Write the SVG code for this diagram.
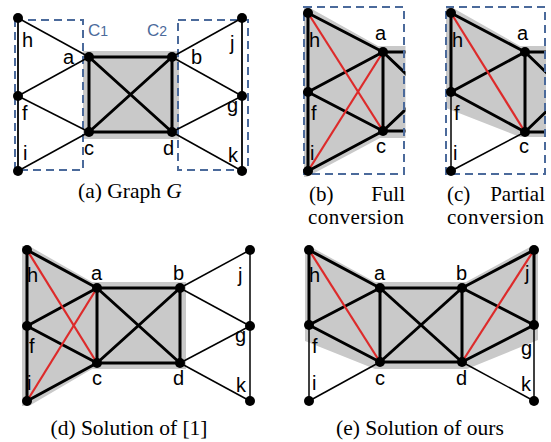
<svg xmlns="http://www.w3.org/2000/svg" width="551" height="442" viewBox="0 0 551 442">
<style>
.bg{fill:#ffffff}
.gray{fill:#c9c9c9;stroke:none}
.tk{stroke:#000;stroke-width:3;fill:none;stroke-linecap:round}
.tn{stroke:#000;stroke-width:1.5;fill:none}
.md{stroke:#1a1a1a;stroke-width:2;fill:none}
.rd{stroke:#dd2a2a;stroke-width:2.2;fill:none}
.box{fill:none;stroke:#4b6a9b;stroke-width:2;stroke-dasharray:8,5}
.nd{fill:#000}
.lb{font-family:"Liberation Sans",Arial,sans-serif;font-size:20px;fill:#000}
.cl{font-family:"Liberation Sans",Arial,sans-serif;font-size:17px;fill:#4b6a9b}
.cap{font-family:"Liberation Serif","Times New Roman",serif;font-size:21.5px;fill:#000}
.cap2{font-family:"Liberation Serif","Times New Roman",serif;font-size:21px;fill:#000}
</style>
<defs>
<clipPath id="clipB"><rect x="290" y="0" width="115.5" height="180"/></clipPath>
<clipPath id="clipC"><rect x="430" y="0" width="116" height="180"/></clipPath>
</defs>
<rect class="bg" x="0" y="0" width="551" height="442"/>

<!-- Panel (a) -->
<g id="panel-a">
<rect class="gray" x="83" y="51" width="96" height="88"/>
<rect class="box" x="15" y="20" width="68" height="150"/>
<rect class="box" x="178" y="20" width="70" height="150"/>
<text class="cl" x="88" y="36">C<tspan font-size="14">1</tspan></text>
<text class="cl" x="147" y="36">C<tspan font-size="14">2</tspan></text>
<g id="a-connectors">
<line class="md" x1="18" y1="18" x2="18" y2="171"/>
<line class="md" x1="242" y1="18" x2="242" y2="171"/>
<line class="tn" x1="18" y1="18" x2="89" y2="57"/>
<line class="tn" x1="18" y1="96" x2="89" y2="57"/>
<line class="tn" x1="18" y1="96" x2="89" y2="132"/>
<line class="tn" x1="18" y1="171" x2="89" y2="132"/>
<line class="tn" x1="242" y1="18" x2="172" y2="57"/>
<line class="tn" x1="242" y1="96" x2="172" y2="57"/>
<line class="tn" x1="242" y1="96" x2="172" y2="132"/>
<line class="tn" x1="242" y1="171" x2="172" y2="132"/>
<line class="tk" x1="89" y1="57" x2="172" y2="57"/>
<line class="tk" x1="89" y1="132" x2="172" y2="132"/>
<line class="tk" x1="89" y1="57" x2="89" y2="132"/>
<line class="tk" x1="172" y1="57" x2="172" y2="132"/>
<line class="tk" x1="89" y1="57" x2="172" y2="132"/>
<line class="tk" x1="172" y1="57" x2="89" y2="132"/>
</g>
<g id="a-node-h"><circle class="nd" cx="18" cy="18" r="5"/><text class="lb" x="22" y="47">h</text></g>
<g id="a-node-f"><circle class="nd" cx="18" cy="96" r="5"/><text class="lb" x="22" y="120">f</text></g>
<g id="a-node-i"><circle class="nd" cx="18" cy="171" r="5"/><text class="lb" x="23" y="160">i</text></g>
<g id="a-node-a"><circle class="nd" cx="89" cy="57" r="5"/><text class="lb" x="63" y="64">a</text></g>
<g id="a-node-c"><circle class="nd" cx="89" cy="132" r="5"/><text class="lb" x="84" y="155">c</text></g>
<g id="a-node-b"><circle class="nd" cx="172" cy="57" r="5"/><text class="lb" x="191" y="64">b</text></g>
<g id="a-node-d"><circle class="nd" cx="172" cy="132" r="5"/><text class="lb" x="163" y="155">d</text></g>
<g id="a-node-j"><circle class="nd" cx="242" cy="18" r="5"/><text class="lb" x="230" y="50">j</text></g>
<g id="a-node-g"><circle class="nd" cx="242" cy="96" r="5"/><text class="lb" x="227" y="112">g</text></g>
<g id="a-node-k"><circle class="nd" cx="242" cy="171" r="5"/><text class="lb" x="228" y="162">k</text></g>
<text class="cap" x="78" y="198">(a) Graph <tspan font-style="italic">G</tspan></text>
</g>

<!-- Panel (b) -->
<g id="panel-b">
<g clip-path="url(#clipB)">
<polygon class="gray" points="304,8 310,8 378,46 406,46 406,138 380,138 307,177 304,177"/>
<g id="b-connectors">
<line class="tk" x1="308" y1="13" x2="308" y2="171"/>
<line class="tk" x1="308" y1="13" x2="383" y2="52"/>
<line class="tk" x1="308" y1="92" x2="383" y2="52"/>
<line class="tk" x1="308" y1="92" x2="383" y2="131"/>
<line class="tk" x1="308" y1="171" x2="383" y2="131"/>
<line class="tk" x1="383" y1="52" x2="383" y2="131"/>
<line class="tk" x1="383" y1="52" x2="466" y2="52"/>
<line class="tk" x1="383" y1="131" x2="466" y2="131"/>
<line class="tk" x1="383" y1="52" x2="466" y2="131"/>
<line class="tk" x1="383" y1="131" x2="466" y2="52"/>
<line class="rd" x1="308" y1="13" x2="383" y2="131"/>
<line class="rd" x1="308" y1="171" x2="383" y2="52"/>
</g>
</g>
<rect class="box" x="304" y="7" width="100" height="167" stroke-width="1.5"/>
<g id="b-node-h"><circle class="nd" cx="308" cy="13" r="5"/><text class="lb" x="309" y="47">h</text></g>
<g id="b-node-f"><circle class="nd" cx="308" cy="92" r="5"/><text class="lb" x="311" y="120">f</text></g>
<g id="b-node-i"><circle class="nd" cx="308" cy="171" r="5"/><text class="lb" x="310" y="160">i</text></g>
<g id="b-node-a"><circle class="nd" cx="383" cy="52" r="5"/><text class="lb" x="375" y="40">a</text></g>
<g id="b-node-c"><circle class="nd" cx="383" cy="131" r="5"/><text class="lb" x="376" y="153">c</text></g>
<text class="cap2" x="309" y="201">(b)</text>
<text class="cap2" x="405" y="201" text-anchor="end">Full</text>
<text class="cap2" x="308" y="224" textLength="96" lengthAdjust="spacing">conversion</text>
</g>

<!-- Panel (c) -->
<g id="panel-c">
<g clip-path="url(#clipC)">
<polygon class="gray" points="446,8 453,8 520,46 547,46 547,137 520,137 446,108"/>
<g id="c-connectors">
<line class="tk" x1="451" y1="13" x2="451" y2="92"/>
<line class="tn" x1="451" y1="92" x2="451" y2="171"/>
<line class="tk" x1="451" y1="13" x2="525" y2="52"/>
<line class="tk" x1="451" y1="92" x2="525" y2="52"/>
<line class="tk" x1="451" y1="92" x2="525" y2="132"/>
<line class="tn" x1="451" y1="171" x2="525" y2="132"/>
<line class="tk" x1="525" y1="52" x2="525" y2="132"/>
<line class="tk" x1="525" y1="52" x2="608" y2="52"/>
<line class="tk" x1="525" y1="132" x2="608" y2="132"/>
<line class="tk" x1="525" y1="52" x2="608" y2="132"/>
<line class="tk" x1="525" y1="132" x2="608" y2="52"/>
<line class="rd" x1="451" y1="13" x2="525" y2="132"/>
</g>
</g>
<rect class="box" x="446" y="7" width="99" height="167" stroke-width="1.5"/>
<g id="c-node-h"><circle class="nd" cx="451" cy="13" r="5"/><text class="lb" x="452" y="47">h</text></g>
<g id="c-node-f"><circle class="nd" cx="451" cy="92" r="5"/><text class="lb" x="454" y="120">f</text></g>
<g id="c-node-i"><circle class="nd" cx="451" cy="171" r="5"/><text class="lb" x="453" y="160">i</text></g>
<g id="c-node-a"><circle class="nd" cx="525" cy="52" r="5"/><text class="lb" x="517" y="40">a</text></g>
<g id="c-node-c"><circle class="nd" cx="525" cy="132" r="5"/><text class="lb" x="519" y="153">c</text></g>
<text class="cap2" x="447" y="201">(c)</text>
<text class="cap2" x="545" y="201" text-anchor="end">Partial</text>
<text class="cap2" x="447" y="224" textLength="97" lengthAdjust="spacing">conversion</text>
</g>

<!-- Panel (d) -->
<g id="panel-d">
<polygon class="gray" points="22,246 29,246 92,282 186,282 186,369 92,369 29,406 22,406"/>
<g id="d-connectors">
<line class="tk" x1="27" y1="250" x2="27" y2="401"/>
<line class="tk" x1="27" y1="250" x2="97" y2="288"/>
<line class="tk" x1="27" y1="326" x2="97" y2="288"/>
<line class="tk" x1="27" y1="326" x2="97" y2="363"/>
<line class="tk" x1="27" y1="401" x2="97" y2="363"/>
<line class="tk" x1="97" y1="288" x2="180" y2="288"/>
<line class="tk" x1="97" y1="363" x2="180" y2="363"/>
<line class="tk" x1="97" y1="288" x2="97" y2="363"/>
<line class="tk" x1="180" y1="288" x2="180" y2="363"/>
<line class="tk" x1="97" y1="288" x2="180" y2="363"/>
<line class="tk" x1="180" y1="288" x2="97" y2="363"/>
<line class="tn" x1="180" y1="288" x2="250" y2="250"/>
<line class="tn" x1="180" y1="288" x2="250" y2="326"/>
<line class="tn" x1="180" y1="363" x2="250" y2="326"/>
<line class="tn" x1="180" y1="363" x2="250" y2="401"/>
<line class="tn" x1="250" y1="250" x2="250" y2="401"/>
<line class="rd" x1="27" y1="250" x2="97" y2="363"/>
<line class="rd" x1="27" y1="401" x2="97" y2="288"/>
</g>
<g id="d-node-h"><circle class="nd" cx="27" cy="250" r="5"/><text class="lb" x="27" y="282">h</text></g>
<g id="d-node-f"><circle class="nd" cx="27" cy="326" r="5"/><text class="lb" x="29" y="353">f</text></g>
<g id="d-node-i"><circle class="nd" cx="27" cy="401" r="5"/><text class="lb" x="27" y="390">i</text></g>
<g id="d-node-a"><circle class="nd" cx="97" cy="288" r="5"/><text class="lb" x="91" y="280">a</text></g>
<g id="d-node-c"><circle class="nd" cx="97" cy="363" r="5"/><text class="lb" x="92" y="385">c</text></g>
<g id="d-node-b"><circle class="nd" cx="180" cy="288" r="5"/><text class="lb" x="173" y="280">b</text></g>
<g id="d-node-d"><circle class="nd" cx="180" cy="363" r="5"/><text class="lb" x="173" y="385">d</text></g>
<g id="d-node-j"><circle class="nd" cx="250" cy="250" r="5"/><text class="lb" x="238" y="282">j</text></g>
<g id="d-node-g"><circle class="nd" cx="250" cy="326" r="5"/><text class="lb" x="235" y="342">g</text></g>
<g id="d-node-k"><circle class="nd" cx="250" cy="401" r="5"/><text class="lb" x="236" y="392">k</text></g>
<text class="cap" x="129" y="435" text-anchor="middle">(d) Solution of [1]</text>
</g>

<!-- Panel (e) -->
<g id="panel-e">
<polygon class="gray" points="305,247 311,247 375,282 466,282 530,247 538,247 538,340 467,369 375,369 305,341"/>
<g id="e-connectors">
<line class="tk" x1="309" y1="250" x2="309" y2="325"/>
<line class="tn" x1="309" y1="325" x2="309" y2="401"/>
<line class="tk" x1="309" y1="250" x2="380" y2="288"/>
<line class="tk" x1="309" y1="325" x2="380" y2="288"/>
<line class="tk" x1="309" y1="325" x2="380" y2="362"/>
<line class="tn" x1="309" y1="401" x2="380" y2="362"/>
<line class="tk" x1="380" y1="288" x2="462" y2="288"/>
<line class="tk" x1="380" y1="362" x2="462" y2="362"/>
<line class="tk" x1="380" y1="288" x2="380" y2="362"/>
<line class="tk" x1="462" y1="288" x2="462" y2="362"/>
<line class="tk" x1="380" y1="288" x2="462" y2="362"/>
<line class="tk" x1="462" y1="288" x2="380" y2="362"/>
<line class="tk" x1="462" y1="288" x2="534" y2="250"/>
<line class="tk" x1="462" y1="288" x2="534" y2="325"/>
<line class="tk" x1="462" y1="362" x2="534" y2="325"/>
<line class="tn" x1="462" y1="362" x2="534" y2="401"/>
<line class="tk" x1="534" y1="250" x2="534" y2="325"/>
<line class="tn" x1="534" y1="325" x2="534" y2="401"/>
<line class="rd" x1="309" y1="250" x2="380" y2="362"/>
<line class="rd" x1="534" y1="250" x2="462" y2="362"/>
</g>
<g id="e-node-h"><circle class="nd" cx="309" cy="250" r="5"/><text class="lb" x="309" y="282">h</text></g>
<g id="e-node-f"><circle class="nd" cx="309" cy="325" r="5"/><text class="lb" x="312" y="353">f</text></g>
<g id="e-node-i"><circle class="nd" cx="309" cy="401" r="5"/><text class="lb" x="312" y="390">i</text></g>
<g id="e-node-a"><circle class="nd" cx="380" cy="288" r="5"/><text class="lb" x="374" y="280">a</text></g>
<g id="e-node-c"><circle class="nd" cx="380" cy="362" r="5"/><text class="lb" x="375" y="385">c</text></g>
<g id="e-node-b"><circle class="nd" cx="462" cy="288" r="5"/><text class="lb" x="456" y="280">b</text></g>
<g id="e-node-d"><circle class="nd" cx="462" cy="362" r="5"/><text class="lb" x="456" y="385">d</text></g>
<g id="e-node-j"><circle class="nd" cx="534" cy="250" r="5"/><text class="lb" x="525" y="280">j</text></g>
<g id="e-node-g"><circle class="nd" cx="534" cy="325" r="5"/><text class="lb" x="521" y="355">g</text></g>
<g id="e-node-k"><circle class="nd" cx="534" cy="401" r="5"/><text class="lb" x="521" y="391">k</text></g>
<text class="cap" x="420" y="435" text-anchor="middle">(e) Solution of ours</text>
</g>
</svg>
